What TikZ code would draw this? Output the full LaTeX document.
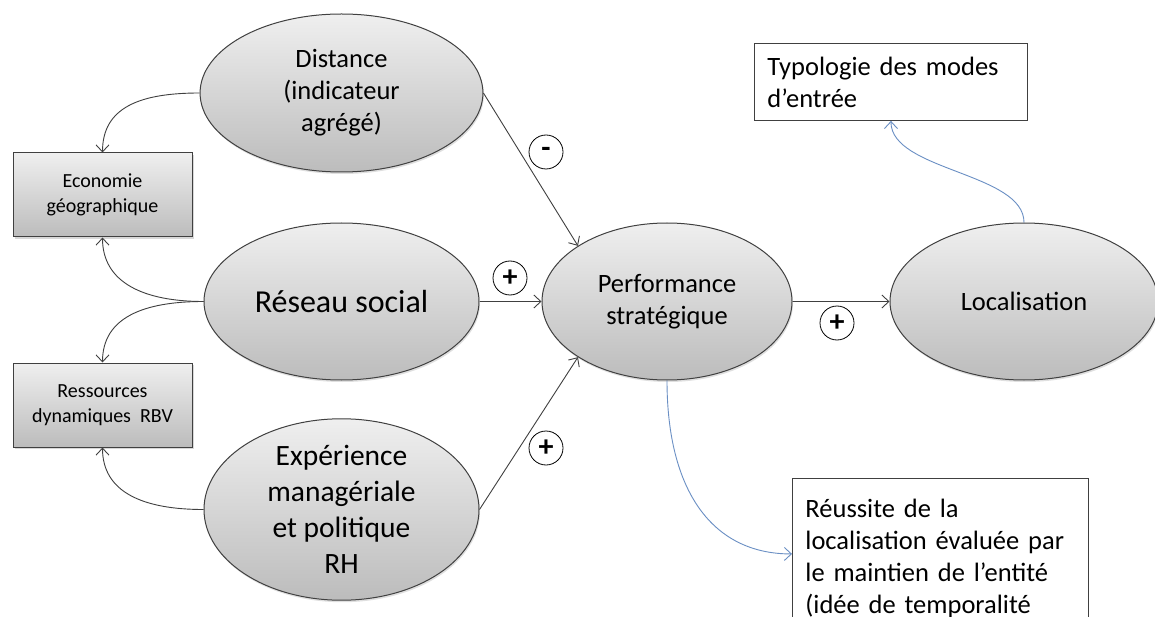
\documentclass[tikz,border=0pt]{standalone}
\usepackage{fontspec}
\setmainfont{Carlito}
\usetikzlibrary{shapes.geometric,arrows.meta,shadows}
\definecolor{edge}{HTML}{404040}
\definecolor{blueline}{HTML}{6A8FC4}
\definecolor{gtop}{HTML}{EFEFEF}
\definecolor{gbot}{HTML}{BCBCBC}
\begin{document}
\begin{tikzpicture}[x=1pt,y=-1pt,
  concept/.style={ellipse, draw=edge, line width=1pt, top color=gtop, bottom color=gbot,
    inner sep=0pt, align=center,
    drop shadow={opacity=0.25, shadow xshift=1pt, shadow yshift=-2pt}},
  theory/.style={rectangle, draw=edge, line width=1pt, top color=gtop, bottom color=gbot,
    minimum width=179pt, minimum height=84pt, inner sep=0pt, align=center,
    font=\fontsize{20}{25.5}\selectfont,
    drop shadow={opacity=0.3, shadow xshift=1.5pt, shadow yshift=-2pt}},
  note/.style={rectangle, draw=edge, fill=white, line width=0.9pt, align=left,
    font=\fontsize{26.5}{32}\selectfont},
  sign/.style={circle, draw=black, fill=white, line width=0.8pt, minimum size=34pt,
    inner sep=0pt, font=\bfseries\fontsize{30}{30}\selectfont},
  link/.style={draw=edge, line width=0.9pt, -{Straight Barb[length=7pt,width=13pt]}},
  bluelink/.style={draw=blueline, line width=0.9pt, -{Straight Barb[length=7pt,width=13pt]}}
]
\useasboundingbox (0,0) rectangle (1155,617);
\clip (0,0) rectangle (1155,617);
\fill[white] (0,0) rectangle (1155,617);

% concept ellipses
\node[concept, minimum width=275pt, minimum height=158pt, font=\fontsize{26.5}{32}\selectfont]
  (dist) at (341.5,93) {\raisebox{-3pt}{\parbox{200pt}{\centering Distance\\(indicateur\\agrégé)}}};
\node[concept, minimum width=275pt, minimum height=157pt, font=\fontsize{32}{38}\selectfont]
  (res) at (341.5,301.5) {Réseau social};
\node[concept, minimum width=275pt, minimum height=157pt, font=\fontsize{29.5}{36}\selectfont]
  (exp) at (341.5,509.5) {Expérience\\managériale\\et politique\\RH};
\node[concept, minimum width=250pt, minimum height=157pt, font=\fontsize{26.5}{32}\selectfont]
  (perf) at (667,301.5) {Performance\\stratégique};
\node[concept, minimum width=268pt, minimum height=157pt, font=\fontsize{26.5}{32}\selectfont]
  (loc) at (1024,301.5) {Localisation};

% theory boxes
\node[theory] (eco) at (102.5,195) {Economie\\géographique};
\node[theory] (ress) at (102.5,405) {Ressources\\dynamiques\ \ RBV};

% note boxes
\node[note, anchor=north west, minimum width=273pt, minimum height=77pt, text width=247pt,
  inner xsep=13pt, inner ysep=4pt] (typ) at (754,43) {Typologie des modes\\d’entrée};
\node[note, anchor=north west, text width=270pt, inner xsep=13pt, inner ysep=0pt]
  (reu) at (792,478) {\rule{0pt}{39pt}Réussite de la\\localisation évaluée par\\le maintien de l’entité\\(idée de temporalité\rule[-40pt]{0pt}{40pt}};

% signs
\node[sign] (m1) at (546,152) {-};
\node[sign] (p1) at (510,278) {+};
\node[sign] (p2) at (546,448) {+};
\node[sign] (p3) at (837,323) {+};

% connectors
\draw[link] (dist.east) -- (perf.148);
\draw[link] (res.east) -- (perf.west);
\draw[link] (exp.east) -- (perf.212);
\draw[link] (perf.east) -- (loc.west);

\draw[link] (dist.west) .. controls +(-60,0) and +(0,-45) .. (eco.north);
\draw[link] (res.west) .. controls +(-60,0) and +(0,45) .. (eco.south);
\draw[link] (res.west) .. controls +(-60,0) and +(0,-45) .. (ress.north);
\draw[link] (exp.west) .. controls +(-60,0) and +(0,45) .. (ress.south);

\draw[bluelink] (perf.south) .. controls +(0,110) and +(-80,0) .. ([yshift=12pt]reu.west);
\draw[bluelink] (loc.north) .. controls +(0,-50) and +(0,50) .. (typ.south);
\end{tikzpicture}
\end{document}
